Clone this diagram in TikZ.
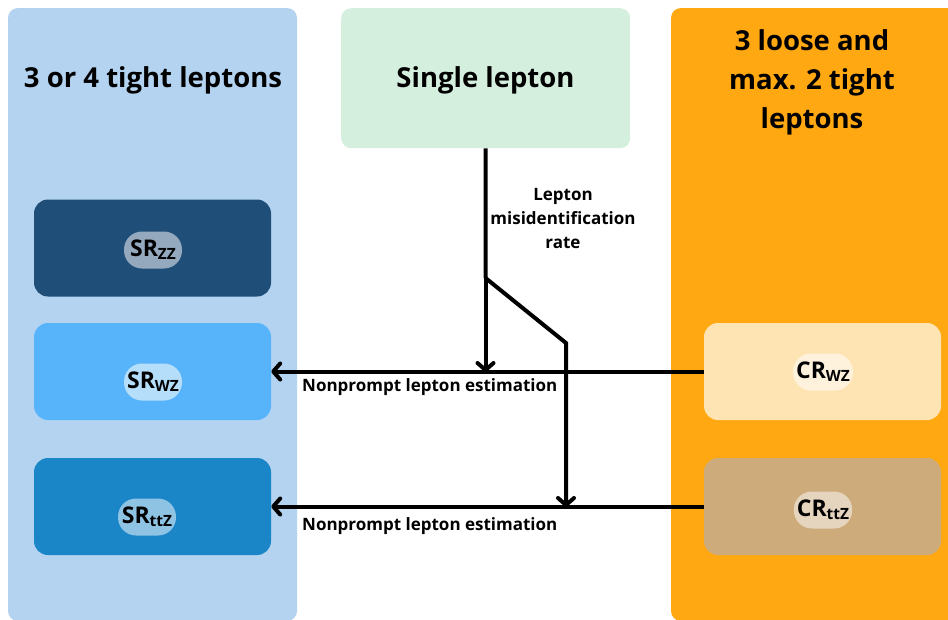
\documentclass[tikz,border=0pt]{standalone}
\usepackage{fontspec}
\setmainfont{Open Sans}
\usetikzlibrary{arrows.meta}
\definecolor{panelL}{HTML}{B3D3F0}
\definecolor{panelM}{HTML}{D5EFDF}
\definecolor{panelR}{HTML}{FFA812}
\definecolor{srzz}{HTML}{1F4E79}
\definecolor{srzzp}{HTML}{94A9BD}
\definecolor{srwz}{HTML}{58B4FA}
\definecolor{srwzp}{HTML}{B5DEFB}
\definecolor{srttz}{HTML}{1A85C7}
\definecolor{srttzp}{HTML}{8EC3E4}
\definecolor{crwz}{HTML}{FEE4B3}
\definecolor{crwzp}{HTML}{FFF2DD}
\definecolor{crttz}{HTML}{CDAB7A}
\definecolor{crttzp}{HTML}{E6D5BE}
\tikzset{
  panel/.style={rounded corners=10pt, draw=none},
  regbox/.style={rounded corners=14pt, minimum width=237pt, minimum height=97pt, inner sep=0pt, draw=none},
  pill/.style={rounded corners=18pt, minimum height=37pt, minimum width=58pt, inner xsep=3pt, inner ysep=0pt,
    font=\bfseries\fontsize{23pt}{25pt}\selectfont},
  heading/.style={font=\bfseries\fontsize{27.5pt}{39pt}\selectfont, align=center, text=black},
  lbl/.style={font=\bfseries\fontsize{17pt}{24pt}\selectfont, align=center, text=black},
  conn/.style={line width=4pt, draw=black},
  arr/.style={conn, -{Straight Barb[length=7pt,width=16pt,round]}},
}
\newcommand{\sub}[1]{\raisebox{-0.25ex}{\fontsize{15.5pt}{16pt}\selectfont #1}}
\begin{document}
\begin{tikzpicture}[x=1pt,y=-1pt]
\useasboundingbox (0,0) rectangle (948,619);
\clip (0,0) rectangle (948,619);
% panels
\fill[panel, panelL] (8,8) rectangle (297,621);
\fill[panel, panelR] (671,8) rectangle (962,621);
\node[panel, fill=panelM, minimum width=289pt, minimum height=140pt, inner sep=0pt, anchor=north west] (single) at (341,8) {};
\node[heading] (hL) at (153,80) {3 or 4 tight leptons};
\node[heading] (hM) at (485.5,80) {Single lepton};
\node[heading] (hR) at (812,82) {3 loose and\\max. 2 tight\\leptons};
% region boxes
\node[regbox, fill=srzz] (srzz) at (152.5,248) {};
\node[regbox, fill=srwz] (srwz) at (152.5,371.5) {};
\node[regbox, fill=srttz] (srttz) at (152.5,506.5) {};
\node[regbox, fill=crwz] (crwz) at (822.5,371.5) {};
\node[regbox, fill=crttz] (crttz) at (822.5,506.5) {};
% pills
\node[pill, fill=srzzp] (psrzz) at (153,250) {SR\sub{ZZ}};
\node[pill, fill=srwzp] (psrwz) at (153,382) {SR\sub{WZ}};
\node[pill, fill=srttzp] (psrttz) at (147,517) {SR\sub{ttZ}};
\node[pill, fill=crwzp] (pcrwz) at (823,372) {CR\sub{WZ}};
\node[pill, fill=crttzp] (pcrttz) at (823,510) {CR\sub{ttZ}};
% connectors
\coordinate (j1) at (485.5,278);
\coordinate (b1) at (566,343);
\coordinate (t1) at (485.5,372);
\coordinate (t2) at (566,507);
\draw[arr] (crwz.west) -- (srwz.east);
\draw[arr] (crttz.west) -- (srttz.east);
\draw[conn] (single.south) -- (j1);
\draw[arr] (j1) -- (t1);
\draw[arr, line join=miter] (j1) -- (b1) -- (t2);
% labels
\node[lbl] (lmis) at (563,219) {Lepton\\misidentification\\rate};
\node[lbl, anchor=west, inner sep=0pt] (lnp1) at (302,387) {Nonprompt lepton estimation};
\node[lbl, anchor=west, inner sep=0pt] (lnp2) at (302,526) {Nonprompt lepton estimation};
\end{tikzpicture}
\end{document}
